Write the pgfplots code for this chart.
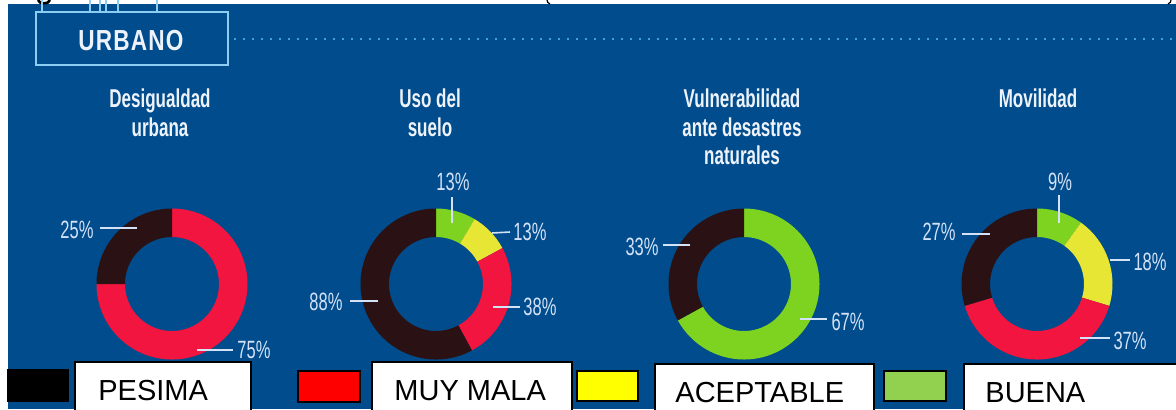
\documentclass[border=0pt]{standalone}
\usepackage{pgfplots}
\pgfplotsset{compat=1.18}
\usepackage{fontspec}
\usetikzlibrary{calc}
\setmainfont{Liberation Sans}
\newfontfamily\titlefont[FakeStretch=0.66]{Liberation Sans Bold}
\newfontfamily\pctfont[FakeStretch=0.66]{Liberation Sans}
\newfontfamily\urbfont[FakeStretch=0.78,LetterSpace=4]{Liberation Sans Bold}

% === COLORES ===
\definecolor{fondo}{HTML}{004C8C}
\definecolor{lineaClara}{HTML}{8CCDF2}
\definecolor{puntos}{HTML}{3FA3DC}
\definecolor{txtTitulo}{HTML}{EEF3FB}
\definecolor{txtPct}{HTML}{D4E2F8}
\definecolor{anilloVerde}{HTML}{7ED321}
\definecolor{anilloAmarillo}{HTML}{E8E634}
\definecolor{anilloRojo}{HTML}{F2153F}
\definecolor{anilloOscuro}{HTML}{2A1214}
\definecolor{legRojo}{HTML}{FF0000}
\definecolor{legAmarillo}{HTML}{FFFF00}
\definecolor{legVerde}{HTML}{92D050}

% radios (1 px = 0.5pt)
\newcommand\Ro{37.75pt}
\newcommand\Ri{23.5pt}
\newcommand\cy{284}

% sector: centro x, angulo inicial, angulo final, color (se omite si es vacio)
\newcommand\sector[4]{%
  \pgfmathsetmacro\arco{(#2)-(#3)}%
  \ifdim\arco pt>0.01pt
  \fill[#4] ($(axis cs:#1,\cy)+(#2:\Ro)$) arc[start angle=#2, end angle=#3, radius=\Ro]
    -- ($(axis cs:#1,\cy)+(#3:\Ri)$) arc[start angle=#3, end angle=#2, radius=\Ri] -- cycle;
  \fi}

\pgfplotsset{
  guia/.style={draw=txtPct, line width=0.8pt, no markers},
}

\begin{document}
\begin{tikzpicture}
\begin{axis}[
    width=588pt, height=204.5pt, scale only axis,
    hide axis, clip=false,
    xmin=0, xmax=1176, ymin=0, ymax=409, y dir=reverse,
]
% === FONDO ===
\pgfplotsextra{
  \fill[white] (axis cs:0,0) rectangle (axis cs:1176,409);
  \fill[fondo] (axis cs:8,4) rectangle (axis cs:1176,409);
  % restos del encabezado (trazos cortados)
  \draw[black, line width=1.3pt] (axis cs:38,0) .. controls (axis cs:39,4.5) and (axis cs:49,4.5) .. (axis cs:50,0);
  \draw[black, line width=0.6pt] (axis cs:547,0) .. controls (axis cs:547.5,2.5) .. (axis cs:550,4);
  \draw[black, line width=0.6pt] (axis cs:1171,0) .. controls (axis cs:1170.5,2.5) .. (axis cs:1168,4);
  % caja URBANO
  \foreach \xx in {42,90,100,106,118,157}
    \draw[lineaClara, line width=0.7pt] (axis cs:\xx,0) -- (axis cs:\xx,12);
  \draw[lineaClara, line width=1pt] (axis cs:36,12) rectangle (axis cs:228,65);
  \node[anchor=base, text=txtTitulo, inner sep=0pt, font=\urbfont\fontsize{14.5}{14.5}\selectfont] at (axis cs:131,50) {URBANO};
  \draw[puntos, line width=1pt, dash pattern=on 1pt off 3.5pt] (axis cs:234,39) -- (axis cs:1174,39);
}

% === DONAS: BUENA / ACEPTABLE / MUY MALA / PESIMA (horario desde arriba) ===
\pgfplotsextra{
  \foreach \cx/\vb/\va/\vm/\vp in {172/0/0/75/25, 436/13/13/38/88, 744/67/0/0/33, 1037/9/18/37/27}{
    \pgfmathsetmacro\k{360/(\vb+\va+\vm+\vp)}
    \pgfmathsetmacro\angB{90-\k*\vb}
    \pgfmathsetmacro\angA{\angB-\k*\va}
    \pgfmathsetmacro\angM{\angA-\k*\vm}
    \sector{\cx}{90}{\angB}{anilloVerde}
    \sector{\cx}{\angB}{\angA}{anilloAmarillo}
    \sector{\cx}{\angA}{\angM}{anilloRojo}
    \sector{\cx}{\angM}{-270}{anilloOscuro}
  }
}

% === LINEAS GUIA ===
\addplot[guia] coordinates {(100,228) (137,228)};
\addplot[guia] coordinates {(197,350) (233,350)};
\addplot[guia] coordinates {(452,197) (452,223)};
\addplot[guia] coordinates {(492,233) (510,232)};
\addplot[guia] coordinates {(493,307) (520,307)};
\addplot[guia] coordinates {(350,301) (378,301)};
\addplot[guia] coordinates {(663,245) (690,245)};
\addplot[guia] coordinates {(800,319) (827,319)};
\addplot[guia] coordinates {(1059,195) (1059,223)};
\addplot[guia] coordinates {(962,234) (990,234)};
\addplot[guia] coordinates {(1110,260) (1130,260)};
\addplot[guia] coordinates {(1080,338) (1110,338)};

% === ETIQUETAS ===
\pgfplotsextra{
  \tikzset{pct/.style={text=txtPct, inner sep=0pt, font=\pctfont\fontsize{12.5}{12.5}\selectfont}}
  \node[pct] at (axis cs:77,230) {25\%};
  \node[pct] at (axis cs:254,350) {75\%};
  \node[pct] at (axis cs:453,182) {13\%};
  \node[pct] at (axis cs:530,232) {13\%};
  \node[pct] at (axis cs:540,307) {38\%};
  \node[pct] at (axis cs:326,302) {88\%};
  \node[pct] at (axis cs:642,247) {33\%};
  \node[pct] at (axis cs:848,322) {67\%};
  \node[pct] at (axis cs:1060,182) {9\%};
  \node[pct] at (axis cs:939,232) {27\%};
  \node[pct] at (axis cs:1150,262) {18\%};
  \node[pct] at (axis cs:1130,341) {37\%};
  % titulos
  \tikzset{tit/.style={anchor=base, text=txtTitulo, inner sep=0pt, font=\titlefont\fontsize{12.9}{12.9}\selectfont}}
  \node[tit] at (axis cs:160,107) {Desigualdad};
  \node[tit] at (axis cs:160,136) {urbana};
  \node[tit] at (axis cs:430,107) {Uso del};
  \node[tit] at (axis cs:430,136) {suelo};
  \node[tit] at (axis cs:742,107) {Vulnerabilidad};
  \node[tit] at (axis cs:742,136) {ante desastres};
  \node[tit] at (axis cs:742,164) {naturales};
  \node[tit] at (axis cs:1038,107) {Movilidad};
}

% === LEYENDA ===
\pgfplotsextra{
  \tikzset{caja/.style={fill=white, draw=black, line width=0.75pt},
           cuadro/.style={draw=black, line width=1pt},
           ley/.style={anchor=base west, inner sep=0pt, font=\fontsize{14.5}{14.5}\selectfont}}
  \fill[black] (axis cs:7,369) rectangle (axis cs:69,402);
  \draw[caja] (axis cs:75,362) rectangle (axis cs:251,415);
  \node[ley] at (axis cs:98,400) {PESIMA};
  \draw[cuadro, fill=legRojo] (axis cs:298,371) rectangle (axis cs:360,402);
  \draw[caja] (axis cs:372,362) rectangle (axis cs:572,415);
  \node[ley] at (axis cs:394,400) {MUY MALA};
  \draw[cuadro, fill=legAmarillo] (axis cs:577,371) rectangle (axis cs:638,401);
  \draw[caja] (axis cs:655,364) rectangle (axis cs:874,415);
  \node[ley] at (axis cs:675,402) {ACEPTABLE};
  \draw[cuadro, fill=legVerde] (axis cs:884,371) rectangle (axis cs:946,401);
  \draw[caja] (axis cs:964,364) rectangle (axis cs:1185,415);
  \node[ley] at (axis cs:985,402) {BUENA};
}
\end{axis}
\pgfresetboundingbox
\path (0,0) rectangle (588pt,204.5pt);
\end{tikzpicture}
\end{document}
